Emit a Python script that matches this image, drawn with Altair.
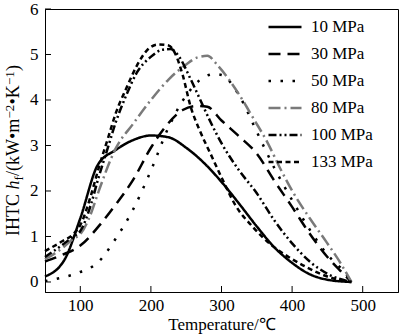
import altair as alt
import pandas as pd

series = ["10 MPa", "30 MPa", "50 MPa", "80 MPa", "100 MPa", "133 MPa"]

t10 = [50, 78, 100, 125, 150, 175, 200, 225, 250, 275, 300, 325, 350, 375, 400, 425, 450, 484]
h10 = [0.12, 0.5, 1.4, 2.58, 2.9, 3.12, 3.22, 3.18, 2.95, 2.62, 2.2, 1.72, 1.22, 0.76, 0.42, 0.17, 0.05, 0.0]

t30 = [50, 75, 100, 130, 150, 175, 200, 220, 245, 265, 280, 300, 325, 350, 375, 400, 425, 450, 470, 484]
h30 = [0.45, 0.6, 0.8, 1.3, 1.7, 2.25, 2.95, 3.4, 3.78, 3.87, 3.85, 3.55, 3.2, 2.82, 2.22, 1.65, 1.06, 0.55, 0.22, 0.0]

t50 = [50, 75, 100, 125, 150, 175, 200, 225, 250, 275, 290, 300, 325, 350, 375, 400, 425, 450, 475, 484]
h50 = [0.02, 0.1, 0.22, 0.43, 0.95, 1.6, 2.45, 3.4, 4.1, 4.5, 4.57, 4.55, 4.1, 3.3, 2.5, 1.8, 1.15, 0.6, 0.2, 0.0]

t80 = [50, 75, 90, 100, 115, 125, 150, 175, 200, 225, 250, 265, 280, 295, 325, 345, 365, 383, 401, 425, 449, 468, 484]
h80 = [0.5, 0.75, 0.95, 1.05, 1.5, 1.95, 2.93, 3.48, 4.0, 4.45, 4.78, 4.93, 4.97, 4.75, 4.12, 3.6, 3.07, 2.5, 1.98, 1.4, 0.87, 0.43, 0.0]

t100 = [50, 75, 90, 100, 115, 125, 140, 150, 165, 180, 200, 215, 228, 240, 255, 270, 285, 300, 325, 350, 375, 400, 425, 450, 484]
h100 = [0.55, 0.82, 1.0, 1.12, 1.7, 2.25, 3.0, 3.5, 4.1, 4.6, 4.95, 5.1, 5.12, 4.95, 4.5, 4.0, 3.5, 3.05, 2.45, 1.95, 1.35, 0.85, 0.45, 0.18, 0.0]

t133 = [50, 75, 90, 100, 115, 125, 140, 150, 165, 180, 195, 210, 225, 235, 245, 256, 270, 285, 300, 320, 345, 370, 395, 420, 450, 484]
h133 = [0.68, 0.9, 1.05, 1.25, 1.9, 2.45, 3.2, 3.7, 4.25, 4.75, 5.1, 5.22, 5.2, 5.0, 4.55, 3.87, 3.3, 2.8, 2.3, 1.68, 1.2, 0.82, 0.55, 0.33, 0.12, 0.0]

x_ticks = [100, 200, 300, 400, 500]
y_ticks = [0, 1, 2, 3, 4, 5, 6]

colors = ["black", "black", "black", "#7a7a7a", "black", "black"]
dashes = [[1, 0], [12, 7], [2.5, 9.5], [12, 4, 2, 4], [8, 3, 2, 3, 2, 3], [5, 3.5]]
widths = [2.5, 2.5, 2.5, 1.5, 2.5, 2.8]

rows = []
for name, ts, hs in zip(series, [t10, t30, t50, t80, t100, t133], [h10, h30, h50, h80, h100, h133]):
    for t, h in zip(ts, hs):
        rows.append({"series": name, "t": t, "h": h})
df = pd.DataFrame(rows)

TOP = 9
W, H = 353, 283
FONT = "Liberation Serif"
xs = alt.Scale(domain=[50, 550], nice=False, zero=False)
ys = alt.Scale(domain=[-0.22, 6], nice=False, zero=False)


def leg():
    return alt.Legend(title=None, orient="none", legendX=222, legendY=0,
                      symbolType="stroke", symbolSize=1089, labelFontSize=17,
                      labelFont=FONT, labelColor="black", labelOffset=8, rowPadding=1, padding=0)


lines = alt.Chart(df).mark_line(interpolate="monotone").encode(
    x=alt.X("t:Q", scale=xs,
            axis=alt.Axis(values=x_ticks, tickSize=0, labelPadding=5, grid=False,
                          title="Temperature/℃", titlePadding=3, titleFontSize=17,
                          titleFontWeight="normal", titleFont=FONT, titleColor="black")),
    y=alt.Y("h:Q", scale=ys,
            axis=alt.Axis(values=y_ticks, tickSize=0, labelPadding=7, grid=False, title=None)),
    color=alt.Color("series:N", scale=alt.Scale(domain=series, range=colors), legend=leg()),
    strokeDash=alt.StrokeDash("series:N", scale=alt.Scale(domain=series, range=dashes), legend=leg()),
    strokeWidth=alt.StrokeWidth("series:N", scale=alt.Scale(domain=series, range=widths), legend=leg()),
    order=alt.Order("t:Q"),
)

xt = alt.Chart(pd.DataFrame({"t": x_ticks})).mark_rule(color="black", strokeWidth=1).encode(
    x=alt.X("t:Q", scale=xs), y=alt.value(H), y2=alt.value(H - 6))
yt = alt.Chart(pd.DataFrame({"h": y_ticks})).mark_rule(color="black", strokeWidth=1).encode(
    y=alt.Y("h:Q", scale=ys), x=alt.value(0), x2=alt.value(6))

# y-axis title pieces (rotated)
title_pieces = [
    ("IHTC ", 18, "normal", 0, 0.0),
    ("h", 18, "italic", 0, 46.5),
    ("f", 13, "normal", 4, 55.5),
    ("/(kW•m", 18, "normal", 0, 60.0),
    ("−2", 13, "normal", -5, 117.5),
    ("•K", 18, "normal", 0, 131.5),
    ("−1", 13, "normal", -5, 151.0),
    (")", 18, "normal", 0, 165.0),
]
base_y = 236 - TOP
base_x = 19 - 45
tlayers = []
for txt, fs, style, dx, off in title_pieces:
    tlayers.append(
        alt.Chart(pd.DataFrame({"a": [0]})).mark_text(
            text=txt, angle=270, align="left", baseline="alphabetic", fontSize=fs,
            fontStyle=style, font=FONT, color="black"
        ).encode(x=alt.value(base_x + dx), y=alt.value(base_y - off))
    )

chart = alt.layer(lines, xt, yt, *tlayers).properties(
    width=W, height=H,
    background="white",
    autosize=alt.AutoSizeParams(type="none"),
    padding={"left": 45, "top": TOP, "right": 2, "bottom": 43},
).configure_view(stroke="black", strokeWidth=1).configure_axis(
    domainColor="black", labelColor="black", labelFont=FONT, labelFontSize=17,
)

chart.save("out.html", embed_options={"renderer": "svg", "actions": False})
